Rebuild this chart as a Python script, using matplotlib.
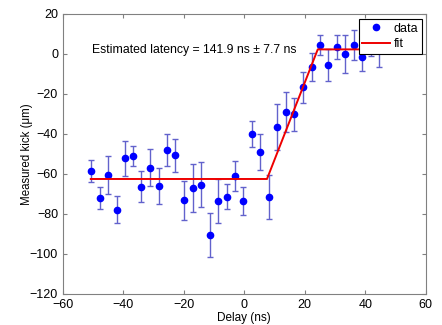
import matplotlib.pyplot as plt

plt.rcParams['font.family'] = ['Liberation Sans', 'DejaVu Sans']

# delay (ns), measured kick (um), error bar half-width (um)
delay = [-50.8, -47.8, -45.1, -42.1, -39.4, -36.7, -34.1, -31.2, -28.3, -25.6,
         -22.8, -20.0, -17.1, -14.3, -11.4, -8.6, -5.8, -3.1, -0.3, 2.6,
         5.2, 8.1, 10.7, 13.8, 16.5, 19.4, 22.3, 25.0, 27.8, 30.6,
         33.3, 36.2, 39.0, 41.9, 44.7]
kick = [-58.5, -72.0, -60.5, -77.8, -52.2, -50.8, -66.3, -56.8, -66.0, -48.0,
        -50.7, -73.2, -67.0, -65.3, -90.7, -73.5, -71.3, -61.0, -73.5, -40.0,
        -49.2, -71.7, -36.5, -29.0, -30.2, -16.7, -6.5, 4.7, -5.5, 3.5,
        0.0, 4.7, -1.5, 3.0, 2.0]
err = [5.5, 5.5, 9.5, 6.7, 8.9, 5.0, 7.7, 9.4, 9.2, 8.0,
       8.2, 9.8, 11.9, 11.2, 11.0, 11.0, 6.4, 7.4, 7.2, 6.6,
       9.0, 11.0, 11.4, 10.0, 8.2, 7.7, 7.1, 5.0, 8.2, 6.2,
       9.6, 7.5, 7.0, 4.0, 8.5]

# piecewise-linear fit
fit_x = [-50.8, 7.5, 24.3, 44.7]
fit_y = [-62.5, -62.5, 2.3, 2.3]

fig = plt.figure(figsize=(4.42, 3.25), dpi=100)
ax = fig.add_axes([0.1425, 0.0954, 0.8205, 0.8616])

ax.errorbar(delay, kick, yerr=err, fmt='none', ecolor='#6262cc',
            elinewidth=1, capsize=2, capthick=1, zorder=2)
ax.plot(delay, kick, 'o', color='#0000ff', markersize=4.5, label='data', zorder=3)
ax.plot(fit_x, fit_y, '-', color='#ee0000', linewidth=1.4, label='fit', zorder=4)

ax.text(-50.5, 2, 'Estimated latency = 141.9 ns \u00b1 7.7 ns', fontsize=8.8,
        va='center', ha='left')

ax.set_xlim(-60, 60)
ax.set_ylim(-120, 20)
ax.set_xticks(range(-60, 61, 20))
ax.set_yticks(range(-120, 21, 20))
ax.tick_params(direction='in', top=True, right=True, labelsize=9,
               length=3, color='#808080')
for s in ax.spines.values():
    s.set_color('#808080')
ax.set_xlabel('Delay (ns)', fontsize=8.5, labelpad=1)
ax.set_ylabel('Measured kick (\u03bcm)', fontsize=8.3, labelpad=-2)

leg = ax.legend(loc='upper right', bbox_to_anchor=(0.99, 0.982), fontsize=9,
                fancybox=False, framealpha=1, edgecolor='black',
                borderaxespad=0, handlelength=2.2, borderpad=0.3,
                labelspacing=0.25, handletextpad=0.3)
leg.get_frame().set_linewidth(0.8)

fig.savefig('out.png', dpi=100)
